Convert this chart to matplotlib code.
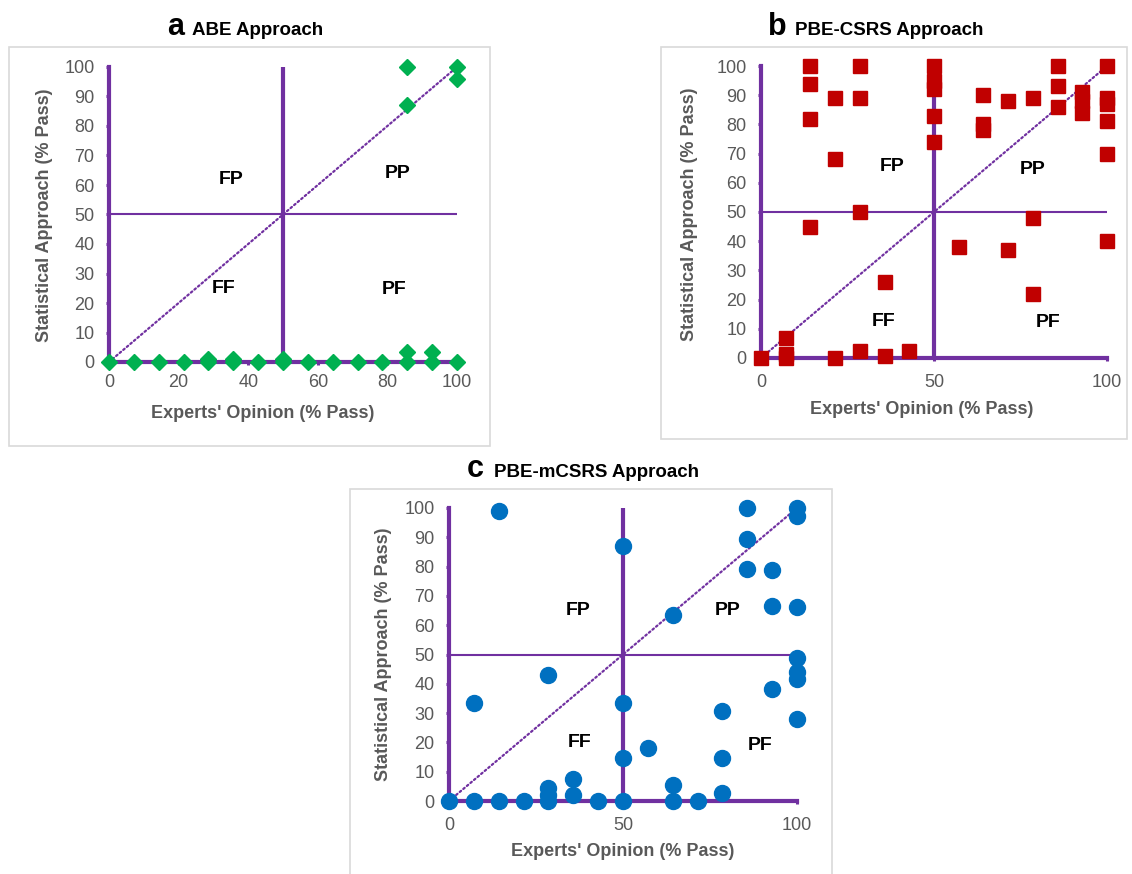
import matplotlib
matplotlib.use("Agg")
import matplotlib.pyplot as plt
from matplotlib.patches import Rectangle

plt.rcParams['font.family'] = ['Liberation Sans', 'DejaVu Sans']

W, H = 1132, 874
PURPLE = '#7030A0'
GREY = '#595959'

# experts' opinion (x) vs statistical approach (y), % pass
abe_x = [0, 7.14, 14.29, 21.43, 28.57, 28.57, 35.71, 35.71, 42.86, 50, 50, 57.14, 64.29,
         71.43, 78.57, 85.71, 85.71, 92.86, 92.86, 100, 85.71, 85.71, 100, 100]
abe_y = [0, 0, 0, 0, 0, 1, 0, 1, 0, 0, 1, 0, 0,
         0, 0, 0, 3.4, 0, 3.4, 0, 100, 87, 100, 96]

csrs_x = [0, 7.14, 7.14, 7.14, 21.43, 28.57, 35.71, 42.86,
          14.29, 14.29, 14.29, 14.29, 21.43, 21.43, 28.57, 28.57, 28.57, 35.71,
          50, 50, 50, 50, 50, 57.14, 64.29, 64.29, 64.29, 71.43, 71.43,
          78.57, 78.57, 78.57, 85.71, 85.71, 85.71, 92.86, 92.86, 92.86,
          100, 100, 100, 100, 100, 100]
csrs_y = [0, 7, 0, 1.5, 0, 2.5, 0.8, 2.5,
          100, 94, 82, 45, 89, 68, 100, 89, 50, 26,
          100, 95, 92, 83, 74, 38, 90, 80, 78, 88, 37,
          89, 48, 22, 100, 93, 86, 91, 88, 84,
          100, 89, 87, 81, 70, 40]

mcsrs_x = [0, 7.14, 7.14, 14.29, 14.29, 21.43, 28.57, 28.57, 28.57, 28.57,
           35.71, 35.71, 42.86, 50, 50, 50, 50, 57.14, 64.29, 64.29, 64.29,
           71.43, 78.57, 78.57, 78.57, 85.71, 85.71, 85.71, 92.86, 92.86, 92.86,
           100, 100, 100, 100, 100, 100, 100]
mcsrs_y = [0, 0, 33.5, 0, 99, 0, 0, 2.2, 4.5, 43,
           1.9, 7.4, 0, 0, 14.8, 33.5, 87, 18.2, 0, 5.3, 63.6,
           0, 2.6, 14.8, 30.7, 100, 89.4, 79.3, 79, 66.5, 38.1,
           100, 97.2, 66.3, 48.9, 44, 41.8, 28.1]

quadrants = ['FP', 'PP', 'FF', 'PF']


def fx(px):
    return px / W


def fy(py):
    return 1 - py / H


def make_axes(left, right, top, bottom):
    return fig.add_axes([fx(left), fy(bottom), (right - left) / W, (bottom - top) / H])


def style_axes(ax, xticks, tick_pad):
    ax.set_xlim(0, 100)
    ax.set_ylim(0, 100)
    for s in ['top', 'right']:
        ax.spines[s].set_visible(False)
    for s in ['left', 'bottom']:
        ax.spines[s].set_color(PURPLE)
        ax.spines[s].set_linewidth(3)
        ax.spines[s].set_capstyle('projecting')
    ax.set_xticks(xticks)
    ax.set_yticks(range(0, 101, 10))
    ax.tick_params(direction='out', length=2.5, width=2.2, color=PURPLE,
                   labelcolor=GREY, labelsize=13)
    ax.tick_params(axis='y', pad=8)
    ax.tick_params(axis='x', pad=tick_pad)
    ax.patch.set_alpha(0)
    # quadrant guides and identity line
    ax.plot([50, 50], [0, 100], color=PURPLE, lw=3, solid_capstyle='butt', zorder=2)
    ax.plot([0, 100], [50, 50], color=PURPLE, lw=1.5, zorder=2)
    ax.plot([0, 100], [0, 100], color=PURPLE, lw=1.6, linestyle=(0, (0.8, 1.3)),
            dash_capstyle='round', zorder=2)


def quad_labels(ax, pos):
    for name, (x, y) in zip(quadrants, pos):
        ax.text(x, y, name, fontsize=14, fontweight='bold', color='black',
                ha='center', va='center', zorder=3)


def title(x_letter, x_text, y, letter, text):
    fig.text(fx(x_letter), fy(y), letter, fontsize=22, fontweight='bold', va='baseline', ha='left')
    fig.text(fx(x_text), fy(y), text, fontsize=13.5, fontweight='bold', va='baseline', ha='left')


def labels(xl, yl):
    fig.text(fx(xl[0]), fy(xl[1]), "Experts' Opinion (% Pass)", fontsize=13,
             fontweight='bold', color=GREY, ha='center', va='center')
    fig.text(fx(yl[0]), fy(yl[1]), "Statistical Approach (% Pass)", fontsize=13,
             fontweight='bold', color=GREY, ha='center', va='center', rotation=90)


fig = plt.figure(figsize=(W / 100, H / 100), dpi=100)

# panel frames
for (l, t, r, b) in [(9, 47, 490, 446), (661, 47, 1127, 439), (350, 489, 832, 880)]:
    fig.patches.append(Rectangle((fx(l), fy(b)), (r - l) / W, (b - t) / H,
                                 transform=fig.transFigure, fill=False,
                                 edgecolor='#d9d9d9', lw=1.2))

# a: ABE
ax_a = make_axes(109, 457, 67, 362)
style_axes(ax_a, range(0, 101, 20), 6)
ax_a.plot(abe_x, abe_y, 'D', color='#00B050', ms=8.5, clip_on=False, zorder=5)
quad_labels(ax_a, [(35, 62), (83, 64), (33, 25), (82, 24.5)])
title(167, 192, 35, 'a', 'ABE Approach')
labels((263, 413), (45, 215))

# b: PBE-CSRS
ax_b = make_axes(761, 1107, 66, 358)
style_axes(ax_b, [0, 50, 100], 9)
ax_b.plot(csrs_x, csrs_y, 's', color='#C00000', ms=10, clip_on=False, zorder=5)
quad_labels(ax_b, [(38, 65.5), (78.5, 64.5), (35.5, 12.5), (83, 12)])
title(768, 795, 35, 'b', 'PBE-CSRS Approach')
labels((922, 410), (690, 214))

# c: PBE-mCSRS
ax_c = make_axes(449, 797, 508, 801)
style_axes(ax_c, [0, 50, 100], 9)
ax_c.plot(mcsrs_x, mcsrs_y, 'o', color='#0070C0', ms=11.5, clip_on=False, zorder=5)
quad_labels(ax_c, [(37, 65), (80, 65), (37.5, 20), (89.5, 19)])
title(467, 494, 477, 'c', 'PBE-mCSRS Approach')
labels((623, 852), (383, 654))

fig.savefig('out.png', dpi=100)
